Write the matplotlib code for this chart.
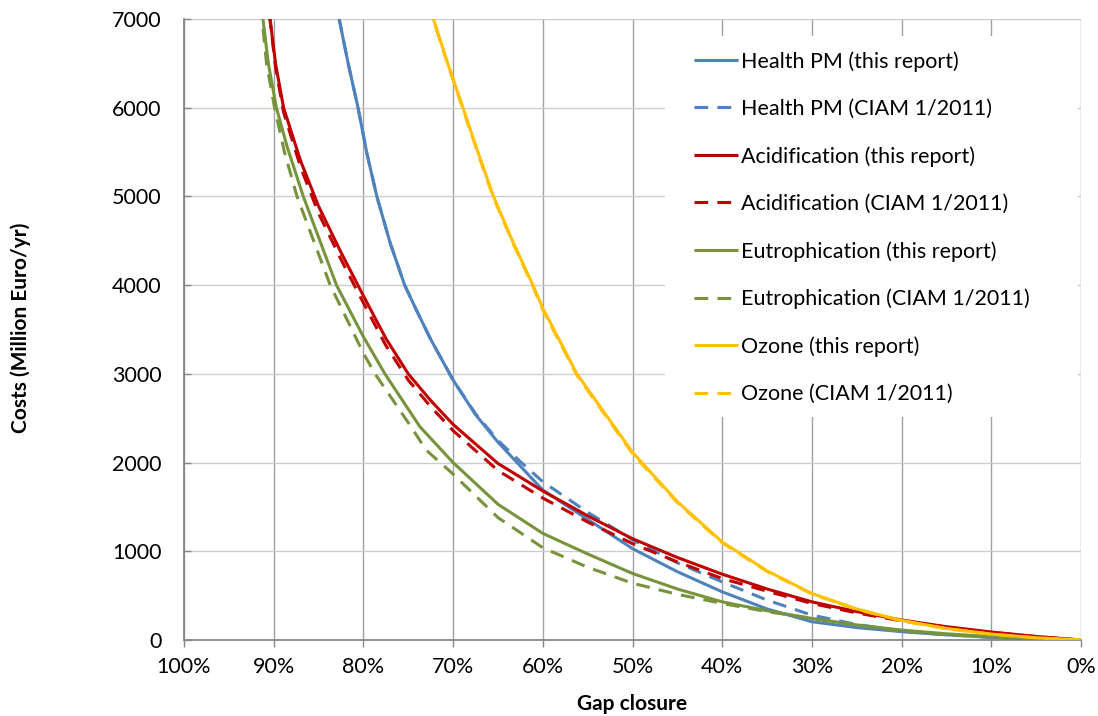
import matplotlib
matplotlib.use("Agg")
import matplotlib.pyplot as plt
from matplotlib.patches import Rectangle
from matplotlib.ticker import FuncFormatter

plt.rcParams["font.family"] = ["Lato", "DejaVu Sans"]

# Gap closure (%) and costs (Million Euro/yr)
pm_x = [0, 5, 10, 15, 20, 25, 30, 35, 40, 45, 50, 55, 60, 62.5, 65, 67.5, 70, 72.5, 74, 75.4, 77, 78.5, 79.6, 80.6, 81.7, 82.7, 84]
pm_new = [0, 12, 30, 58, 94, 140, 206, 350, 543, 770, 1030, 1360, 1690, 1960, 2230, 2540, 2930, 3390, 3700, 4000, 4470, 5000, 5480, 6000, 6500, 7000, 7650]
pm_old = [0, 10, 30, 60, 100, 175, 280, 450, 655, 870, 1130, 1440, 1784, 2010, 2250, 2550, 2930, 3390, 3700, 4000, 4470, 5000, 5480, 6000, 6500, 7000, 7650]

acid_x = [0, 5, 10, 15, 20, 25, 30, 35, 40, 45, 50, 55, 60, 65, 70, 72.5, 75, 77.5, 80, 82.5, 85, 87, 88.9, 89.8, 90.4, 91.5]
acid_new = [0, 40, 90, 150, 225, 320, 430, 575, 742, 930, 1142, 1400, 1680, 1990, 2430, 2700, 3000, 3400, 3880, 4370, 4890, 5400, 6000, 6500, 7000, 7900]
acid_old = [0, 38, 85, 142, 215, 305, 412, 550, 693, 880, 1086, 1330, 1600, 1910, 2360, 2630, 2930, 3320, 3800, 4290, 4810, 5330, 5950, 6460, 6980, 7900]

eut_x_new = [0, 5, 10, 15, 20, 25, 30, 35, 40, 45, 50, 55, 60, 65, 70, 73.7, 77.6, 80, 83, 86.7, 88.5, 89.7, 90.6, 91.2, 92]
eut_new = [0, 15, 37, 70, 112, 170, 243, 330, 430, 575, 750, 970, 1202, 1530, 2000, 2404, 3000, 3418, 4000, 5000, 5560, 6000, 6500, 7000, 7700]
eut_x_old = [0, 5, 10, 15, 20, 25, 30, 35, 40, 45, 50, 55, 60, 65, 70, 73, 75, 78.7, 80, 83.7, 87.4, 88.8, 89.9, 90.8, 91.3, 92]
eut_old = [0, 12, 32, 62, 100, 165, 243, 320, 412, 515, 640, 820, 1040, 1380, 1870, 2141, 2450, 3000, 3233, 4000, 5000, 5500, 6000, 6500, 7000, 7700]

oz_x = [0, 5, 10, 15, 20, 25, 30, 35, 40, 45, 50, 56.2, 60, 61.1, 63.3, 65.5, 67.2, 68.9, 70.6, 72.2, 73.5]
oz_new = [0, 25, 67, 130, 220, 350, 524, 780, 1105, 1560, 2116, 3000, 3740, 4000, 4480, 5000, 5490, 6000, 6500, 7000, 7500]
oz_old = [0, 24, 65, 127, 216, 345, 518, 772, 1095, 1548, 2100, 2985, 3720, 3985, 4465, 4985, 5475, 5985, 6490, 6990, 7500]

BLUE = "#4F81BD"
RED = "#C00000"
GREEN = "#77933C"
YELLOW = "#FFC000"
DASH = (0, (4.5, 3))
LW = 2.2

series = [
    (pm_x, pm_new, BLUE, "-", "Health PM (this report)"),
    (pm_x, pm_old, BLUE, DASH, "Health PM (CIAM 1/2011)"),
    (acid_x, acid_new, RED, "-", "Acidification (this report)"),
    (acid_x, acid_old, RED, DASH, "Acidification (CIAM 1/2011)"),
    (eut_x_new, eut_new, GREEN, "-", "Eutrophication (this report)"),
    (eut_x_old, eut_old, GREEN, DASH, "Eutrophication (CIAM 1/2011)"),
    (oz_x, oz_new, YELLOW, "-", "Ozone (this report)"),
    (oz_x, oz_old, YELLOW, DASH, "Ozone (CIAM 1/2011)"),
]

fig = plt.figure(figsize=(10.98, 7.16), dpi=100, facecolor="white")
ax = fig.add_axes([184 / 1098, 1 - 640 / 716, 897 / 1098, 621 / 716])

for xs, ys, color, ls, label in series:
    ax.plot(xs, ys, color=color, linestyle=ls, linewidth=LW, label=label,
            solid_capstyle="butt", dash_capstyle="butt", solid_joinstyle="round",
            zorder=3)

ax.set_xlim(100, 0)
ax.set_ylim(0, 7000)
ax.set_xticks(range(100, -1, -10))
ax.set_yticks(range(0, 7001, 1000))
ax.xaxis.set_major_formatter(FuncFormatter(lambda v, _: f"{v:.0f}%"))

ax.set_axisbelow(True)
ax.xaxis.grid(True, color="#A0A0A0", linewidth=1.0)
ax.yaxis.grid(True, color="#CCCCCC", linewidth=1.0)

for side in ("top", "right"):
    ax.spines[side].set_visible(False)
for side in ("left", "bottom"):
    ax.spines[side].set_color("#868686")
    ax.spines[side].set_linewidth(1.3)

ax.tick_params(axis="x", direction="out", length=5, width=1, color="#868686",
               labelsize=15.5, pad=7)
ax.tick_params(axis="y", direction="in", length=5, width=1, color="#868686",
               labelsize=15.5, pad=16)

ax.set_xlabel("Gap closure", fontsize=15, fontweight="bold")
ax.set_ylabel("Costs (Million Euro/yr)", fontsize=15, fontweight="bold")
ax.xaxis.set_label_coords(0.5, -0.087)
ax.yaxis.set_label_coords(-0.171, 0.502)

# white legend area covering the gridlines
ax.add_patch(Rectangle((0.536, 0.359), 0.4605, 0.6136, transform=ax.transAxes,
                       facecolor="white", edgecolor="none", zorder=2.5))

leg = ax.legend(loc="upper left", bbox_to_anchor=(0.5686, 0.948), frameon=False,
                fontsize=15.5, handlelength=2.05, handletextpad=0.14,
                labelspacing=1.26, borderpad=0, borderaxespad=0)
leg.set_zorder(4)

fig.savefig("out.png", dpi=100, facecolor="white")
